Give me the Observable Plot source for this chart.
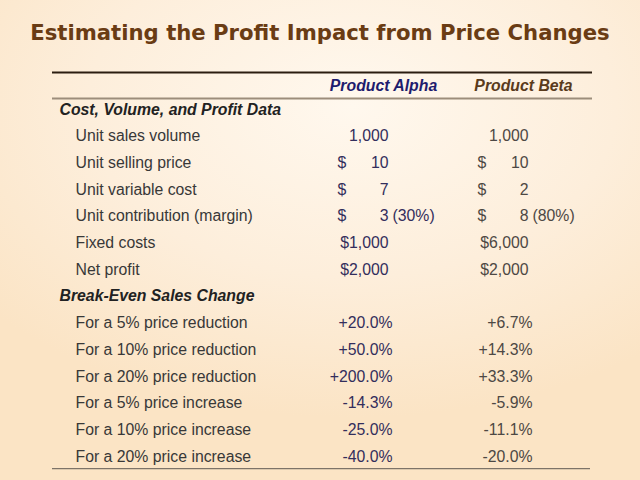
<!DOCTYPE html>
<html><head><meta charset="utf-8">
<script src="https://cdn.jsdelivr.net/npm/d3@7"></script>
<script src="https://cdn.jsdelivr.net/npm/@observablehq/plot@0.6"></script>
<style>
html,body{margin:0;padding:0;width:640px;height:480px;overflow:hidden;}
body{background: radial-gradient(ellipse 75% 65% at 55% 22%, #fff8ee 0%, #fdeedb 55%, #fbe4c5 100%);}
#title{height:62px;box-sizing:border-box;padding-top:20px;text-align:center;font:bold 21.2px "DejaVu Sans";color:#6a3c14;line-height:26px;white-space:nowrap;}
#chart svg{display:block;}
</style></head><body>
<div id="title">Estimating the Profit Impact from Price Changes</div>
<div id="chart"></div>
<script>
const products = ["Product Alpha", "Product Beta"];
const sections = ["Cost, Volume, and Profit Data", "Break-Even Sales Change"];
const costLabels = ["Unit sales volume", "Unit selling price", "Unit variable cost", "Unit contribution (margin)", "Fixed costs", "Net profit"];
const alphaCost = ["1,000", "$ 10", "$ 7", "$ 3 (30%)", "$1,000", "$2,000"];
const betaCost = ["1,000", "$ 10", "$ 2", "$ 8 (80%)", "$6,000", "$2,000"];
const breakEvenLabels = ["For a 5% price reduction", "For a 10% price reduction", "For a 20% price reduction", "For a 5% price increase", "For a 10% price increase", "For a 20% price increase"];
const alphaBreakEven = [20.0, 50.0, 200.0, -14.3, -25.0, -40.0];
const betaBreakEven = [6.7, 14.3, 33.3, -5.9, -11.1, -20.0];

// build table rows
const rowKeys = ["header"];
const sectionRows = [];
const labelRows = [];
const costCells = [];
const pctCells = [];
function parseCell(s) {
  const m = s.match(/^(\$ )?(\S+)(?: (\(.*\)))?$/);
  return {sym: m[1] ? "$" : null, num: m[2], note: m[3] || null};
}
rowKeys.push("s0"); sectionRows.push({row: "s0", text: sections[0]});
costLabels.forEach((l, i) => {
  const k = "c" + i; rowKeys.push(k); labelRows.push({row: k, text: l});
  costCells.push({row: k, col: "alpha", ...parseCell(alphaCost[i])});
  costCells.push({row: k, col: "beta", ...parseCell(betaCost[i])});
});
rowKeys.push("s1"); sectionRows.push({row: "s1", text: sections[1]});
const fmtPct = v => (v > 0 ? "+" : "") + v.toFixed(1) + "%";
breakEvenLabels.forEach((l, i) => {
  const k = "b" + i; rowKeys.push(k); labelRows.push({row: k, text: l});
  pctCells.push({row: k, col: "alpha", num: fmtPct(alphaBreakEven[i])});
  pctCells.push({row: k, col: "beta", num: fmtPct(betaBreakEven[i])});
});
const lastRow = rowKeys[rowKeys.length - 1];

const font = "Liberation Sans";
const fs = 15.8;

const chart = Plot.plot({
  width: 640, height: 418,
  marginLeft: 52, marginRight: 48, marginTop: 20.3, marginBottom: 23.9,
  style: {background: "transparent", fontFamily: font},
  x: {type: "point", domain: ["alpha", "beta"], range: [388, 528], padding: 0, round: false, axis: null},
  y: {type: "point", domain: rowKeys, range: [20.3, 394.1], padding: 0, round: false, axis: null},
  color: {domain: ["alpha", "beta"], range: ["#332e5c", "#4d4844"]},
  marks: [
    Plot.ruleY(["header"], {dy: -10.3, stroke: "#2b1d10", strokeWidth: 2}),
    Plot.ruleY(["header"], {dy: 15.7, stroke: "#9c8d7b", strokeWidth: 2}),
    Plot.ruleY([lastRow], {dy: 12, stroke: "#7d7368", strokeWidth: 1.3, insetRight: 2}),
    Plot.text([products[0]], {x: () => "alpha", y: () => "header", text: d => d, dx: -5, dy: 2.7, fontSize: fs, fontWeight: "bold", fontStyle: "italic", fill: "#1e1c6e"}),
    Plot.text([products[1]], {x: () => "beta", y: () => "header", text: d => d, dx: -5, dy: 2.7, fontSize: fs, fontWeight: "bold", fontStyle: "italic", fill: "#5a3b1c"}),
    Plot.text(sectionRows, {y: "row", text: "text", frameAnchor: "left", textAnchor: "start", dx: 7, fontSize: fs, fontWeight: "bold", fontStyle: "italic", fill: "#222"}),
    Plot.text(labelRows, {y: "row", text: "text", frameAnchor: "left", textAnchor: "start", dx: 23, fontSize: fs, fill: "#383838"}),
    Plot.text(costCells.filter(d => d.sym), {x: "col", y: "row", text: "sym", textAnchor: "start", dx: -51, fontSize: fs, fill: "col"}),
    Plot.text(costCells, {x: "col", y: "row", text: "num", textAnchor: "end", fontSize: fs, fill: "col"}),
    Plot.text(costCells.filter(d => d.note), {x: "col", y: "row", text: "note", textAnchor: "start", dx: 4, fontSize: fs, fill: "col"}),
    Plot.text(pctCells, {x: "col", y: "row", text: "num", textAnchor: "end", dx: 4, fontSize: fs, fill: "col"})
  ]
});
document.getElementById("chart").appendChild(chart);
</script>
</body></html>
